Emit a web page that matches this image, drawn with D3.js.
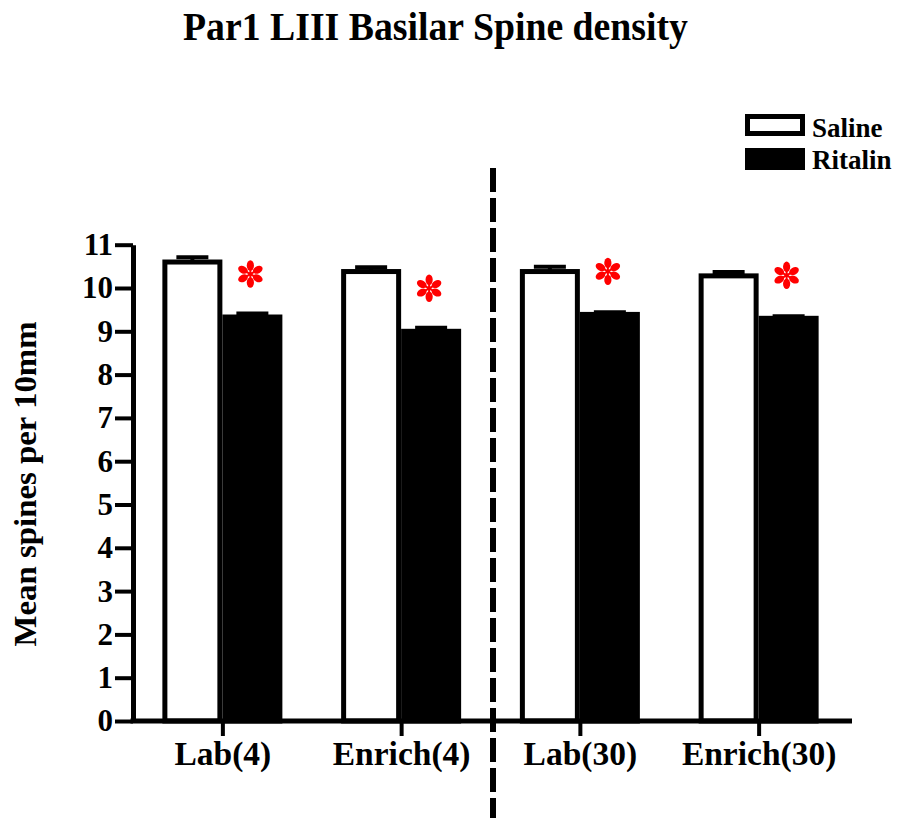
<!DOCTYPE html>
<html>
<head>
<meta charset="utf-8">
<script src="https://cdn.jsdelivr.net/npm/d3@7"></script>
<style>
  html, body { margin: 0; padding: 0; background: #fff; }
  svg { display: block; }
  text { font-family: "Liberation Serif", "Times New Roman", serif; font-weight: bold; fill: #000; }
</style>
</head>
<body>
<svg id="chart" width="900" height="818"></svg>
<script>
// ---- data ----
const categories = ["Lab(4)", "Enrich(4)", "Lab(30)", "Enrich(30)"];
const seriesNames = ["Saline", "Ritalin"];
const salineMeans = [10.60, 10.38, 10.38, 10.28];
const salineSEM   = [0.11, 0.10, 0.11, 0.09];
const ritalinMeans = [9.33, 9.00, 9.39, 9.30];
const ritalinSEM   = [0.08, 0.08, 0.05, 0.05];
const significant  = [true, true, true, true];
const yTicks = [0, 1, 2, 3, 4, 5, 6, 7, 8, 9, 10, 11];
const titleText = "Par1 LIII Basilar Spine density";
const yLabel = "Mean spines per 10mm";

// ---- layout ----
const svg = d3.select("#chart");
const xLeft = 133, xRight = 848, axisEnd = 852;
const y = d3.scaleLinear().domain([0, 11]).range([721, 244.7]);
const x0 = d3.scalePoint().domain(categories).range([xLeft, xRight]).padding(0.5);
const barW = 60;
const x1 = d3.scaleBand().domain(seriesNames).range([-barW, barW]).padding(0);

const rows = categories.map((c, i) => ({
  cat: c,
  vals: [
    { s: "Saline", v: salineMeans[i], e: salineSEM[i] },
    { s: "Ritalin", v: ritalinMeans[i], e: ritalinSEM[i] }
  ],
  sig: significant[i]
}));

// title
svg.append("text")
  .attr("x", 435.5).attr("y", 40)
  .attr("text-anchor", "middle")
  .attr("font-size", 41)
  .attr("textLength", 505)
  .attr("lengthAdjust", "spacingAndGlyphs")
  .text(titleText);

// bars
const inset = 2.5;
const g = svg.append("g");
rows.forEach(r => {
  const cx = x0(r.cat);
  r.vals.forEach(d => {
    const bx = cx + x1(d.s);
    const bw = x1.bandwidth();
    g.append("rect")
      .attr("x", bx + inset)
      .attr("y", y(d.v))
      .attr("width", bw - 2 * inset)
      .attr("height", y(0) - y(d.v))
      .attr("fill", d.s === "Saline" ? "#fff" : "#000")
      .attr("stroke", "#000")
      .attr("stroke-width", 5);
    // error bar (upper)
    const mx = bx + bw / 2;
    g.append("line")
      .attr("x1", mx).attr("x2", mx)
      .attr("y1", y(d.v)).attr("y2", y(d.v + d.e))
      .attr("stroke", "#000").attr("stroke-width", 4);
    g.append("line")
      .attr("x1", mx - 16).attr("x2", mx + 16)
      .attr("y1", y(d.v + d.e)).attr("y2", y(d.v + d.e))
      .attr("stroke", "#000").attr("stroke-width", 4);
  });
  // significance star
  if (r.sig) {
    const d = r.vals[1];
    const sx = cx + x1(d.s) + x1.bandwidth() / 2 - 2;
    const sy = y(d.v) - 43;
    const star = g.append("g").attr("transform", `translate(${sx},${sy})`);
    d3.range(6).forEach(k => {
      star.append("ellipse")
        .attr("cx", 0).attr("cy", -8.5)
        .attr("rx", 3.6).attr("ry", 5.2)
        .attr("fill", "#ff0000")
        .attr("transform", `rotate(${k * 60})`);
      star.append("line")
        .attr("x1", 0).attr("y1", 0).attr("x2", 0).attr("y2", -6)
        .attr("stroke", "#ff0000").attr("stroke-width", 2)
        .attr("transform", `rotate(${k * 60})`);
    });
    star.append("circle").attr("r", 2).attr("fill", "#ff0000");
  }
});

// y axis
const yAxis = d3.axisLeft(y).tickValues(yTicks).tickSize(18).tickSizeOuter(0).tickPadding(2);
const yg = svg.append("g").attr("transform", `translate(${xLeft},0)`).call(yAxis);
yg.select(".domain").attr("stroke", "#000").attr("stroke-width", 5);
yg.selectAll(".tick line").attr("stroke", "#000").attr("stroke-width", 4);
yg.selectAll(".tick text")
  .attr("font-size", 31)
  .attr("font-family", "Liberation Serif, serif")
  .attr("font-weight", "bold")
  .attr("fill", "#000");

// x axis
const xAxis = d3.axisBottom(x0).tickSize(15).tickSizeOuter(0).tickPadding(5);
const xg = svg.append("g").attr("transform", `translate(0,${y(0)})`).call(xAxis);
xg.select(".domain").remove();
xg.append("line")
  .attr("x1", xLeft - 2.5).attr("x2", axisEnd)
  .attr("y1", 0).attr("y2", 0)
  .attr("stroke", "#000").attr("stroke-width", 5);
xg.selectAll(".tick line").attr("stroke", "#000").attr("stroke-width", 4);
xg.selectAll(".tick text")
  .attr("font-size", 33.5)
  .attr("font-family", "Liberation Serif, serif")
  .attr("font-weight", "bold")
  .attr("fill", "#000");

// y label
svg.append("text")
  .attr("transform", `translate(36,${484}) rotate(-90)`)
  .attr("text-anchor", "middle")
  .attr("font-size", 32)
  .attr("textLength", 325)
  .attr("lengthAdjust", "spacingAndGlyphs")
  .text(yLabel);

// dashed divider between groups
svg.append("line")
  .attr("x1", 493).attr("x2", 493)
  .attr("y1", 168).attr("y2", 818)
  .attr("stroke", "#000").attr("stroke-width", 6)
  .attr("stroke-dasharray", "24,6");

// legend
const leg = svg.append("g");
seriesNames.forEach((s, i) => {
  const ly = [114, 148][i];
  leg.append("rect")
    .attr("x", 747.5).attr("y", ly + 2.5)
    .attr("width", 55).attr("height", 17)
    .attr("fill", s === "Saline" ? "#fff" : "#000")
    .attr("stroke", "#000").attr("stroke-width", 5);
  leg.append("text")
    .attr("x", 812).attr("y", [137, 169][i])
    .attr("font-size", 27)
    .text(s);
});
</script>
</body>
</html>
